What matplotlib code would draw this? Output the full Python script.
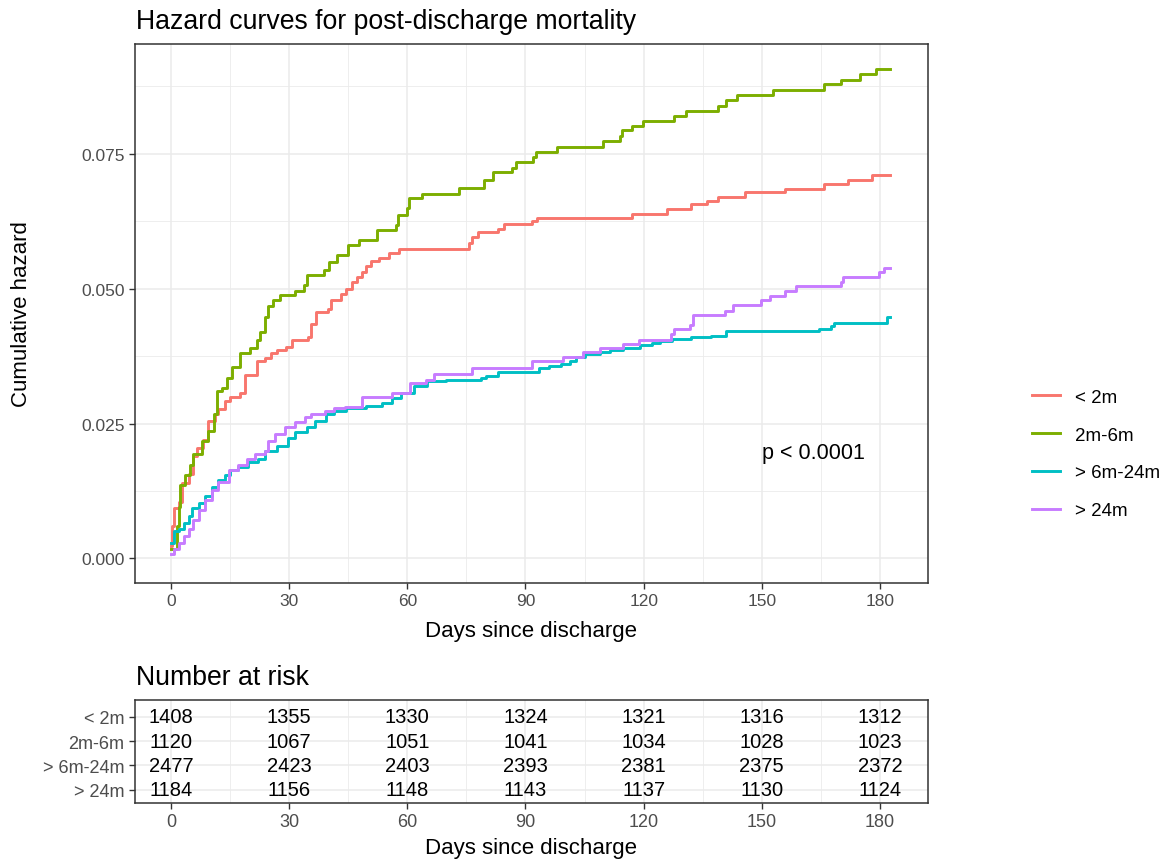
import matplotlib
matplotlib.use("Agg")
import matplotlib.pyplot as plt
import numpy as np

plt.rcParams["font.family"] = ["Liberation Sans", "DejaVu Sans"]

# groups and colours (ggplot hue palette)
groups = ["< 2m", "2m-6m", "> 6m-24m", "> 24m"]
colors = ["#F8766D", "#7CAE00", "#00BFC4", "#C77CFF"]

# step curves (days, cumulative hazard)
t_lt2 = [0, 0.3, 0.8, 1.9, 2.8, 4.5, 5.5, 6.5, 8, 9.5, 11.2, 12, 13.7, 15, 17.5, 18.8,
         21.7, 23.8, 25.5, 26.8, 29.3, 30.6, 34.8, 35.6, 36.9, 39.8, 40.7, 43.2, 44.5,
         46, 47.3, 48.6, 49.4, 50.7, 52.8, 55.3, 57.9, 75.7, 76.5, 78, 82.9, 84.6, 91.6,
         92.9, 117, 125.9, 132, 136, 139, 145.8, 155.8, 165.8, 171.9, 178.1, 182.6]
h_lt2 = [0.0023, 0.006, 0.0093, 0.0104, 0.0139, 0.0157, 0.019, 0.0205, 0.022, 0.0255,
         0.0267, 0.0276, 0.0291, 0.030, 0.0307, 0.034, 0.0365, 0.0371, 0.038, 0.0386,
         0.0392, 0.0404, 0.041, 0.0435, 0.0456, 0.0462, 0.0479, 0.049, 0.0499, 0.0512,
         0.0522, 0.0531, 0.0541, 0.0551, 0.0556, 0.0566, 0.0574, 0.0584, 0.0595, 0.0605,
         0.0611, 0.0619, 0.0625, 0.063, 0.0639, 0.0648, 0.0657, 0.0663, 0.067, 0.0679,
         0.0684, 0.0693, 0.0701, 0.071, 0.071]

t_2to6 = [0, 1.5, 1.9, 2.4, 3.6, 4.9, 5.7, 7.8, 9.5, 10.8, 11.6, 12.9, 14.2, 15.4, 17.5,
          20, 21.7, 22.6, 23.8, 24.7, 26, 27.7, 31.5, 33.7, 34.5, 38.8, 40, 42.2, 44.9,
          47.7, 52.3, 57, 57.7, 60, 60.4, 63.8, 73.1, 79.5, 81.7, 86.6, 87.7, 91.9, 92.6,
          98, 109.6, 114, 114.6, 117.1, 119.8, 127.6, 130.7, 138.8, 141, 143.7, 152.9,
          165.7, 170, 175, 179, 182.6]
h_2to6 = [0.0017, 0.006, 0.0095, 0.0136, 0.0154, 0.0173, 0.0194, 0.0218, 0.0237, 0.0267,
          0.031, 0.0316, 0.0334, 0.0355, 0.038, 0.0389, 0.0404, 0.042, 0.0447, 0.0467,
          0.0479, 0.0488, 0.0495, 0.0507, 0.0525, 0.0535, 0.055, 0.0562, 0.0581, 0.059,
          0.0608, 0.0618, 0.0636, 0.0649, 0.0667, 0.0676, 0.0687, 0.0701, 0.0715, 0.0724,
          0.0734, 0.0744, 0.0753, 0.0763, 0.0773, 0.0783, 0.0793, 0.0801, 0.081, 0.082,
          0.0829, 0.0839, 0.0849, 0.0859, 0.0868, 0.0878, 0.0887, 0.0898, 0.0907, 0.0907]

t_6to24 = [0, 0.7, 1.9, 3.2, 4.5, 5.3, 7, 8.7, 10.4, 12, 13.7, 15, 17.1, 19.6, 22.2, 23.8,
           26.8, 29.7, 31.4, 34.4, 36.5, 39.4, 41.5, 44.5, 49.4, 53.6, 56.2, 58.3, 61.7,
           65.1, 69.7, 78.6, 79.9, 82.9, 93.4, 96, 99.1, 101.4, 102.9, 105, 108.9, 111.4,
           114.8, 119, 122, 124.2, 127.2, 132, 137, 141, 164.5, 167.5, 168.4, 181.8, 182.6]
h_6to24 = [0.0029, 0.0051, 0.0054, 0.0066, 0.0078, 0.0093, 0.0102, 0.0115, 0.0133, 0.0145,
           0.0154, 0.0163, 0.0169, 0.0179, 0.0185, 0.020, 0.0209, 0.0224, 0.0234, 0.0243,
           0.0255, 0.0267, 0.0274, 0.0278, 0.0282, 0.0288, 0.0297, 0.0306, 0.0319, 0.0328,
           0.033, 0.0334, 0.0338, 0.0345, 0.0352, 0.0356, 0.036, 0.0366, 0.0373, 0.0378,
           0.0382, 0.0386, 0.039, 0.0396, 0.0399, 0.0402, 0.0406, 0.041, 0.0413, 0.0421,
           0.0425, 0.0431, 0.0436, 0.0447, 0.0447]

t_gt24 = [0, 0.7, 1.9, 3.2, 4.5, 5.7, 7, 8.7, 10.4, 12, 14.6, 17.1, 19.2, 21.3, 23.8, 24.7,
          26.4, 28.9, 31.4, 34, 35.6, 39, 41.5, 44.1, 48.6, 56.2, 60.8, 64.7, 66.8, 76.5,
          91.6, 99.5, 104.6, 108.9, 114.7, 118.9, 126.9, 127.6, 131.8, 132.5, 140.6, 142.6,
          149.9, 152, 155.8, 158.8, 170, 170.7, 179.8, 181.1, 182.6]
h_gt24 = [0.0008, 0.0017, 0.0029, 0.0041, 0.0054, 0.0072, 0.009, 0.0109, 0.0127, 0.0142,
          0.0163, 0.0173, 0.0185, 0.0194, 0.020, 0.0218, 0.0231, 0.0243, 0.0252, 0.0262,
          0.0267, 0.0273, 0.0278, 0.0281, 0.0299, 0.0306, 0.0325, 0.0331, 0.0342, 0.0353,
          0.0365, 0.0373, 0.0382, 0.0389, 0.0397, 0.0405, 0.0416, 0.0426, 0.0433, 0.0451,
          0.0459, 0.047, 0.0479, 0.0487, 0.0496, 0.0504, 0.0513, 0.0522, 0.053, 0.0539,
          0.0539]

curve_times = [t_lt2, t_2to6, t_6to24, t_gt24]
curve_haz = [h_lt2, h_2to6, h_6to24, h_gt24]

# number at risk table
risk_days = [0, 30, 60, 90, 120, 150, 180]
risk_lt2 = [1408, 1355, 1330, 1324, 1321, 1316, 1312]
risk_2to6 = [1120, 1067, 1051, 1041, 1034, 1028, 1023]
risk_6to24 = [2477, 2423, 2403, 2393, 2381, 2375, 2372]
risk_gt24 = [1184, 1156, 1148, 1143, 1137, 1130, 1124]
risk_rows = [risk_lt2, risk_2to6, risk_6to24, risk_gt24]

x_ticks = [0, 30, 60, 90, 120, 150, 180]
y_ticks = [0.000, 0.025, 0.050, 0.075]

grey_txt = "#4D4D4D"
border = "#333333"
grid_c = "#EBEBEB"

W, H = 1163, 862
fig = plt.figure(figsize=(W / 100, H / 100), dpi=100)


def px_box(left, top, right, bottom):
    return [left / W, 1 - bottom / H, (right - left) / W, (bottom - top) / H]


def style_axes(ax, size=12.5):
    for s in ax.spines.values():
        s.set_color(border)
        s.set_linewidth(1.1)
    ax.tick_params(axis="both", colors=border, length=4, width=1.0,
                   labelsize=size, labelcolor=grey_txt)


# ---- main hazard panel
ax = fig.add_axes(px_box(135, 45, 928, 584))
for t, h, c, g in zip(curve_times, curve_haz, colors, groups):
    ax.step(t, h, where="post", color=c, lw=2.1, label=g, zorder=3)

ax.set_xlim(-9.15, 192.2)
ax.set_ylim(-0.00454, 0.0953)
ax.set_xticks(x_ticks)
ax.set_xticks(np.arange(15, 190, 30), minor=True)
ax.set_yticks(y_ticks)
ax.set_yticklabels([f"{v:.3f}" for v in y_ticks])
ax.set_yticks([0.0125, 0.0375, 0.0625, 0.0875], minor=True)
ax.tick_params(which="minor", length=0)
ax.grid(which="major", color=grid_c, lw=1.1, zorder=0)
ax.grid(which="minor", color=grid_c, lw=0.6, zorder=0)
ax.set_axisbelow(True)
style_axes(ax)

ax.text(150, 0.0196, "p < 0.0001", fontsize=15.5, ha="left", va="center", color="black")

fig.text(136 / W, 1 - 22 / H, "Hazard curves for post-discharge mortality",
         fontsize=19.2, ha="left", va="center")
fig.text(531 / W, 1 - 632 / H, "Days since discharge", fontsize=16,
         ha="center", va="center")
fig.text(22 / W, 1 - 314 / H, "Cumulative hazard", fontsize=16,
         ha="center", va="center", rotation=90)

fig.legend(loc="center left", bbox_to_anchor=(1032 / W, 1 - 455 / H), frameon=False,
           fontsize=13.5, handlelength=1.5, handletextpad=0.8, labelspacing=1.1,
           borderpad=0, borderaxespad=0)

# ---- number at risk table
axt = fig.add_axes(px_box(135, 701, 928, 804))
ypos = [4, 3, 2, 1]
for row, y in zip(risk_rows, ypos):
    for d, n in zip(risk_days, row):
        axt.text(d, y, str(n), fontsize=14.5, ha="center", va="center", color="black")
axt.set_xlim(-9.15, 192.2)
axt.set_ylim(0.45, 4.7)
axt.set_xticks(x_ticks)
axt.set_xticks(np.arange(15, 190, 30), minor=True)
axt.set_yticks(ypos)
axt.set_yticklabels(groups)
axt.tick_params(which="minor", length=0)
axt.grid(which="major", color=grid_c, lw=1.1, zorder=0)
axt.grid(which="minor", axis="x", color=grid_c, lw=0.6, zorder=0)
axt.set_axisbelow(True)
style_axes(axt, size=13)

fig.text(136 / W, 1 - 678 / H, "Number at risk", fontsize=19.2, ha="left", va="center")
fig.text(531 / W, 1 - 849 / H, "Days since discharge", fontsize=16,
         ha="center", va="center")

fig.savefig("out.png", dpi=100)
